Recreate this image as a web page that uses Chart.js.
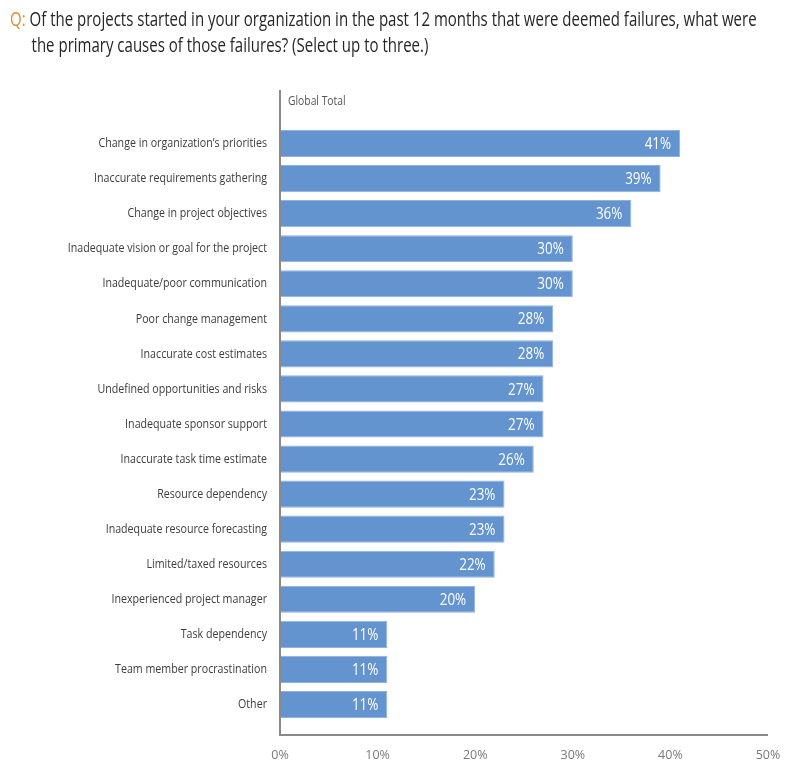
<!DOCTYPE html>
<html>
<head>
<meta charset="utf-8">
<script src="https://cdn.jsdelivr.net/npm/chart.js@4"></script>
<style>
  body { margin: 0; background: #fff; }
  #wrap { position: relative; width: 800px; height: 772px; }
  #title {
    position: absolute; left: 10px; top: 6px; white-space: nowrap;
    font-family: 'Open Sans', sans-serif;
    font-size: 19.5px; line-height: 26px; color: #262626;
    transform: scaleX(0.77); transform-origin: 0 0;
  }
  #title .q { color: #e8892b; }
  #title .l2 { padding-left: 28px; }
  canvas { position: absolute; left: 0; top: 0; }
</style>
</head>
<body>
<div id="wrap">
  <canvas id="chart" width="800" height="772"></canvas>
  <div id="title"><span class="q">Q:</span> Of the projects started in your organization in the past 12 months that were deemed failures, what were<br><span class="l2">the primary causes of those failures? (Select up to three.)</span></div>
</div>
<script>
const causes = [
  'Change in organization\u2019s priorities',
  'Inaccurate requirements gathering',
  'Change in project objectives',
  'Inadequate vision or goal for the project',
  'Inadequate/poor communication',
  'Poor change management',
  'Inaccurate cost estimates',
  'Undefined opportunities and risks',
  'Inadequate sponsor support',
  'Inaccurate task time estimate',
  'Resource dependency',
  'Inadequate resource forecasting',
  'Limited/taxed resources',
  'Inexperienced project manager',
  'Task dependency',
  'Team member procrastination',
  'Other'
];
const globalTotal = [41, 39, 36, 30, 30, 28, 28, 27, 27, 26, 23, 23, 22, 20, 11, 11, 11];
const xTicks = [0, 10, 20, 30, 40, 50];

const font = "'Open Sans', sans-serif";

// the reference uses a condensed face, so squeeze text horizontally
function squeezed(ctx, text, x, y, align, sx) {
  ctx.save();
  ctx.translate(x, y);
  ctx.scale(sx, 1);
  ctx.textAlign = align;
  ctx.fillText(text, 0, 0);
  ctx.restore();
}

// axis lines, category names, series name and value labels
const decorations = {
  id: 'decorations',
  afterDatasetsDraw(chart) {
    const { ctx, chartArea } = chart;
    ctx.save();
    ctx.strokeStyle = '#8a8a8a';
    ctx.lineWidth = 2;
    ctx.beginPath();
    ctx.moveTo(chartArea.left, chartArea.top - 36);
    ctx.lineTo(chartArea.left, chartArea.bottom + 13);
    ctx.lineTo(chartArea.right, chartArea.bottom + 13);
    ctx.stroke();

    ctx.textBaseline = 'middle';
    ctx.fillStyle = '#555';
    ctx.font = '12px ' + font;
    squeezed(ctx, 'Global Total', chartArea.left + 8, chartArea.top - 24, 'left', 0.86);

    const bars = chart.getDatasetMeta(0).data;
    ctx.fillStyle = '#3d3d3d';
    ctx.font = '13px ' + font;
    bars.forEach((bar, i) => {
      squeezed(ctx, causes[i], chartArea.left - 13, bar.y, 'right', 0.82);
    });

    ctx.fillStyle = '#fff';
    ctx.font = '16px ' + font;
    bars.forEach((bar, i) => {
      squeezed(ctx, globalTotal[i] + '%', bar.x - 9, bar.y + 1, 'right', 0.84);
    });
    ctx.restore();
  }
};

new Chart(document.getElementById('chart'), {
  type: 'bar',
  data: {
    labels: causes,
    datasets: [{
      label: 'Global Total',
      data: globalTotal,
      backgroundColor: '#6394cf',
      borderColor: '#8fb2dd',
      borderWidth: 1,
      barPercentage: 0.9,
      categoryPercentage: 0.86
    }]
  },
  options: {
    indexAxis: 'y',
    responsive: false,
    animation: false,
    layout: { padding: { top: 126, right: 32, left: 0, bottom: 0 } },
    plugins: {
      legend: { display: false },
      tooltip: { enabled: false }
    },
    scales: {
      x: {
        min: 0,
        max: 50,
        afterBuildTicks: scale => { scale.ticks = xTicks.map(v => ({ value: v })); },
        afterFit: scale => {
          scale.height = 50;
          // big tick padding would otherwise eat into the right edge
          scale.paddingLeft = 0;
          scale.paddingRight = 0;
        },
        grid: { display: false, drawTicks: false },
        border: { display: false },
        ticks: {
          padding: 26,
          color: '#7a7a7a',
          font: { family: font, size: 12.5 },
          callback: v => v + '%'
        }
      },
      y: {
        afterFit: scale => { scale.width = 280; },
        grid: { display: false, drawTicks: false },
        border: { display: false },
        ticks: { display: false }
      }
    }
  },
  plugins: [decorations]
});
</script>
</body>
</html>
